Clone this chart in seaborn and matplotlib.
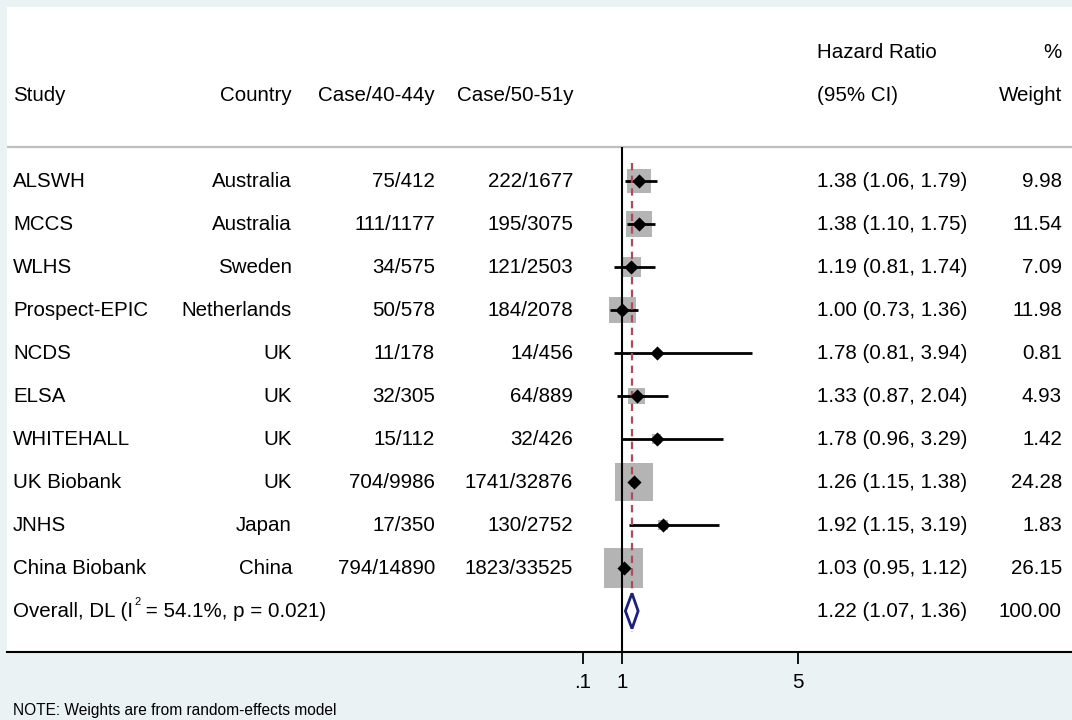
import numpy as np
import pandas as pd
import matplotlib
matplotlib.use("Agg")
import matplotlib.pyplot as plt
import seaborn as sns
from matplotlib.patches import Rectangle, Polygon
from matplotlib.transforms import blended_transform_factory

# ---------------- data ----------------
studies = ["ALSWH", "MCCS", "WLHS", "Prospect-EPIC", "NCDS", "ELSA",
           "WHITEHALL", "UK Biobank", "JNHS", "China Biobank"]
countries = ["Australia", "Australia", "Sweden", "Netherlands", "UK", "UK",
             "UK", "UK", "Japan", "China"]
case_4044 = ["75/412", "111/1177", "34/575", "50/578", "11/178", "32/305",
             "15/112", "704/9986", "17/350", "794/14890"]
case_5051 = ["222/1677", "195/3075", "121/2503", "184/2078", "14/456", "64/889",
             "32/426", "1741/32876", "130/2752", "1823/33525"]
hr = [1.38, 1.38, 1.19, 1.00, 1.78, 1.33, 1.78, 1.26, 1.92, 1.03]
ci_low = [1.06, 1.10, 0.81, 0.73, 0.81, 0.87, 0.96, 1.15, 1.15, 0.95]
ci_high = [1.79, 1.75, 1.74, 1.36, 3.94, 2.04, 3.29, 1.38, 3.19, 1.12]
weights = [9.98, 11.54, 7.09, 11.98, 0.81, 4.93, 1.42, 24.28, 1.83, 26.15]
overall_hr, overall_low, overall_high, overall_weight = 1.22, 1.07, 1.36, 100.00
overall_label_a = "Overall, DL (I"
overall_label_sup = "2"
overall_label_b = " = 54.1%, p = 0.021)"
xticks = [0.1, 1, 5]
xticklabels = [".1", "1", "5"]
note = "NOTE: Weights are from random-effects model"

# ---------------- style ----------------
sns.set_theme(style="white")
plt.rcParams["font.family"] = ["Liberation Sans", "DejaVu Sans"]

BG = "#EAF2F3"
W, H = 1072, 720
FS = 14.8

df = pd.DataFrame({"study": studies, "hr": hr, "lo": ci_low, "hi": ci_high,
                   "w": weights})
df["row"] = np.arange(len(df))
overall_row = len(df)

fig = plt.figure(figsize=(W / 100, H / 100), dpi=100, facecolor=BG)
ax = fig.add_axes([7 / W, 1 - 652 / H, (W - 7) / W, 645 / H])
ax.set_facecolor("white")

# pixel geometry of the panel (px per HR unit / per row)
px_hr, px_row = 44.0, 43.0
ax.set_xlim(1 + (7 - 622.3) / px_hr, 1 + (W - 622.3) / px_hr)
ax.set_ylim((652 - 181) / px_row, (7 - 181) / px_row)

# weight boxes (area proportional to weight)
side_px = 7.63 * np.sqrt(df["w"].values)
for (_, r), s in zip(df.iterrows(), side_px):
    bw, bh = s / px_hr, s / px_row
    ax.add_patch(Rectangle((r["hr"] - bw / 2, r["row"] - bh / 2), bw, bh,
                           facecolor="#B4B4B4", edgecolor="none", zorder=2))

# confidence intervals
ax.hlines(df["row"], df["lo"], df["hi"], color="black", lw=2.0, zorder=3)

# point estimates
sns.scatterplot(data=df, x="hr", y="row", marker="D", s=52, color="black",
                linewidth=0, zorder=5, ax=ax, legend=False)

# reference lines
header_line = (147 - 181) / px_row
ax.axhline(header_line, color="#BEBEBE", lw=1.6, zorder=1)
ax.vlines(1, header_line, (652 - 181) / px_row, color="black", lw=1.5, zorder=4)
ax.vlines(overall_hr, -0.42, 10.49, color="#B04A58", lw=1.6,
          linestyles=(0, (3.3, 2.4)), zorder=4)

# overall diamond
dh = 0.41
ax.add_patch(Polygon([(overall_low, overall_row), (overall_hr, overall_row - dh),
                      (overall_high, overall_row), (overall_hr, overall_row + dh)],
                     closed=True, facecolor="white", edgecolor="#1B1F7E",
                     lw=2.0, zorder=6))

# axes styling
for sp in ["top", "right", "left"]:
    ax.spines[sp].set_visible(False)
ax.spines["bottom"].set_color("black")
ax.spines["bottom"].set_linewidth(1.5)
ax.set_xticks(xticks)
ax.set_xticklabels(xticklabels)
ax.set_yticks([])
ax.tick_params(axis="x", direction="out", length=8.3, width=1.3,
               labelsize=FS, pad=7, colors="black", bottom=True)
ax.set_xlabel("")
ax.set_ylabel("")

# ---------------- text columns ----------------
tr = blended_transform_factory(fig.transFigure, ax.transData)
off = 0.15  # baseline offset (rows) so caps are centered on the row


def txt(px, row, s, ha="left", size=FS):
    return ax.text(px / W, row + off, s, transform=tr, ha=ha, va="baseline",
                   fontsize=size, color="black")


# headers
txt(817, -3, "Hazard Ratio")
txt(1062, -3, "%", ha="right")
txt(13, -2, "Study")
txt(292, -2, "Country", ha="right")
txt(435, -2, "Case/40-44y", ha="right")
txt(573, -2, "Case/50-51y", ha="right")
txt(817, -2, "(95% CI)")
txt(1062, -2, "Weight", ha="right")

for i in range(len(studies)):
    txt(13, i, studies[i])
    txt(292, i, countries[i], ha="right")
    txt(435, i, case_4044[i], ha="right")
    txt(573, i, case_5051[i], ha="right")
    txt(817, i, f"{hr[i]:.2f} ({ci_low[i]:.2f}, {ci_high[i]:.2f})")
    txt(1062, i, f"{weights[i]:.2f}", ha="right")

# overall label with a small raised superscript
fig.canvas.draw()
renderer = fig.canvas.get_renderer()
t1 = txt(13, overall_row, overall_label_a)
bb = t1.get_window_extent(renderer)
x_sup = bb.x1 + 1
ax.text(x_sup / W, overall_row - 0.13, overall_label_sup, transform=tr,
        ha="left", va="baseline", fontsize=8.0, color="black")
txt(x_sup + 6, overall_row, overall_label_b)
txt(817, overall_row, f"{overall_hr:.2f} ({overall_low:.2f}, {overall_high:.2f})")
txt(1062, overall_row, f"{overall_weight:.2f}", ha="right")

fig.text(13 / W, 1 - 711 / H, note, ha="left", va="center", fontsize=11.2,
         color="black")

fig.savefig("out.png", dpi=100, facecolor=BG)
